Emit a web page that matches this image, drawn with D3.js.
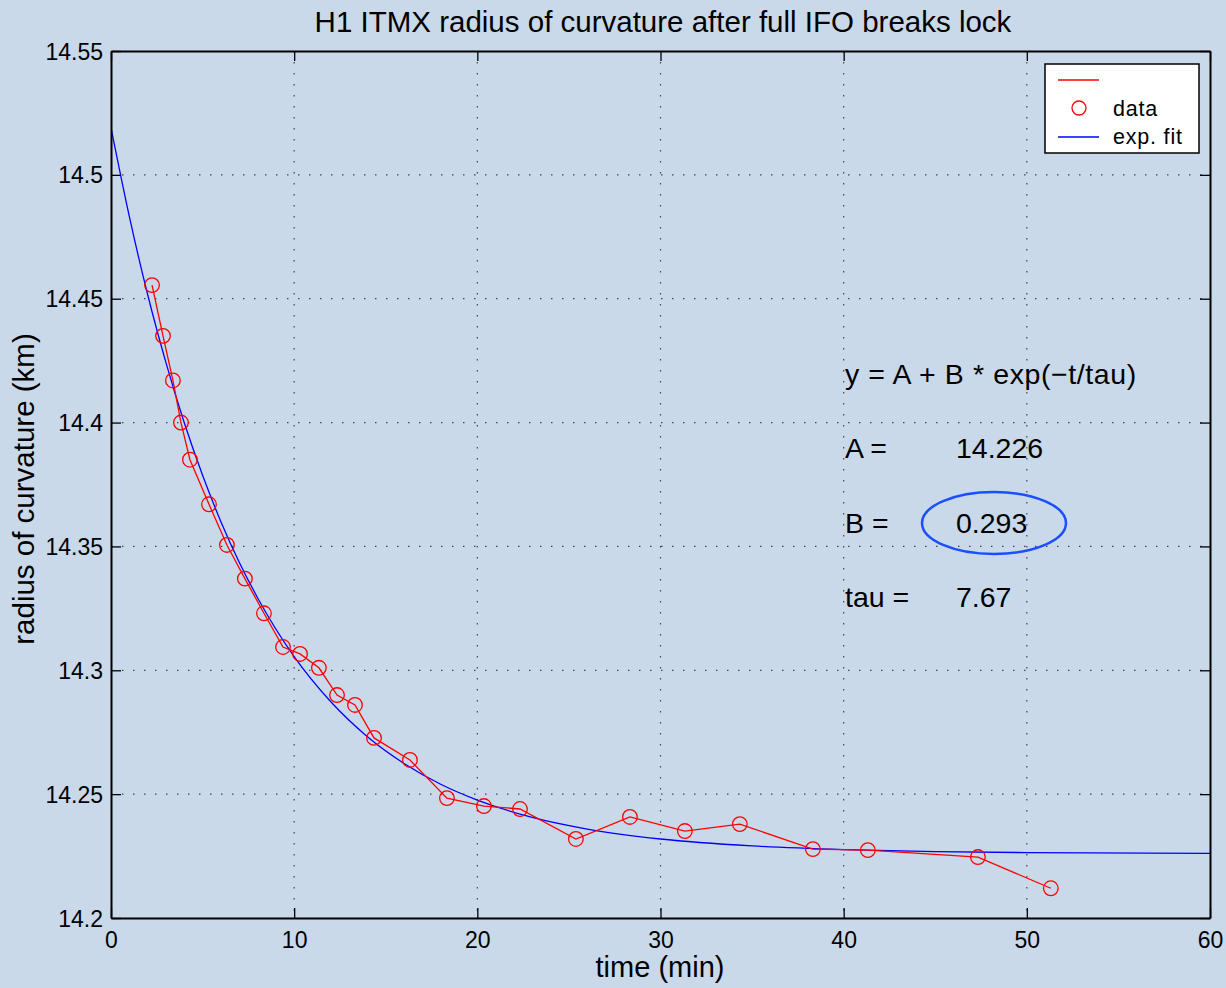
<!DOCTYPE html>
<html><head><meta charset="utf-8">
<script src="https://cdn.jsdelivr.net/npm/d3@7"></script>
<style>
html,body{margin:0;padding:0;background:#c9d9e9;}
svg{display:block;font-family:"Liberation Sans",Arial,Helvetica,sans-serif;}
</style></head><body>
<svg id="chart" width="1226" height="988"></svg>
<script>
// data
const timeMin = [2.24,2.84,3.38,3.82,4.31,5.35,6.33,7.31,8.35,9.39,10.32,11.35,12.34,13.32,14.36,16.32,18.34,20.36,22.33,25.38,28.33,31.33,34.33,38.32,41.32,47.33,51.31];
const radiusKm = [14.4555,14.435,14.417,14.400,14.385,14.367,14.3506,14.337,14.323,14.3094,14.3066,14.301,14.290,14.286,14.2727,14.2638,14.2484,14.2452,14.244,14.2319,14.2408,14.2351,14.2379,14.2278,14.2274,14.2246,14.212];
const fitTime = [0,1,2,3,4,5,6,7,8,10,12,14,16,18,20,23,26,30,35,40,45,50,60];
const fitRadius = [14.519,14.4832,14.4517,14.4242,14.3999,14.3787,14.3600,14.3436,14.3293,14.3055,14.2873,14.2732,14.2624,14.2540,14.2476,14.2406,14.2359,14.2319,14.2291,14.2276,14.2268,14.2264,14.2261];
const xTicks = [0,10,20,30,40,50,60];
const yTicks = [14.2,14.25,14.3,14.35,14.4,14.45,14.5,14.55];
const yTickLabels = ["14.2","14.25","14.3","14.35","14.4","14.45","14.5","14.55"];
const fitParams = [["A =","14.226"],["B =","0.293"],["tau =","7.67"]];
const legendLabels = ["","data","exp. fit"];

const svg = d3.select("#chart");
const L=111,R=1210,T=51,B=918;
const x = d3.scaleLinear().domain([0,60]).range([L,R]);
const y = d3.scaleLinear().domain([14.2,14.55]).range([B,T]);

// grid
const g = svg.append("g");
g.selectAll(".gx").data(xTicks.slice(1,-1)).enter().append("line")
 .attr("x1",d=>x(d)).attr("x2",d=>x(d)).attr("y1",T).attr("y2",B)
 .attr("stroke","#444").attr("stroke-width",1.2).attr("stroke-dasharray","1.5,9.5");
g.selectAll(".gy").data(yTicks.slice(1,-1)).enter().append("line")
 .attr("y1",d=>y(d)).attr("y2",d=>y(d)).attr("x1",L).attr("x2",R)
 .attr("stroke","#444").attr("stroke-width",1.2).attr("stroke-dasharray","1.5,9.5");

// clip
svg.append("clipPath").attr("id","clip").append("rect").attr("x",L).attr("y",T).attr("width",R-L).attr("height",B-T);

// fit line
svg.append("path").datum(fitTime.map((t,i)=>[t,fitRadius[i]]))
 .attr("clip-path","url(#clip)")
 .attr("d",d3.line().x(d=>x(d[0])).y(d=>y(d[1])).curve(d3.curveMonotoneX))
 .attr("fill","none").attr("stroke","#0000ff").attr("stroke-width",1.3);

// data line
const pts = timeMin.map((t,i)=>[t,radiusKm[i]]);
svg.append("path").datum(pts)
 .attr("d",d3.line().x(d=>x(d[0])).y(d=>y(d[1])))
 .attr("fill","none").attr("stroke","#ff0000").attr("stroke-width",1.3);
svg.selectAll(".pt").data(pts).enter().append("circle")
 .attr("cx",d=>x(d[0])).attr("cy",d=>y(d[1])).attr("r",7.3)
 .attr("fill","none").attr("stroke","#ff0000").attr("stroke-width",1.3);

// axes
const fs = 23;
const xb = svg.append("g").attr("transform",`translate(0,${B})`)
 .call(d3.axisBottom(x).tickValues(xTicks).tickSizeInner(-10).tickSizeOuter(0).tickPadding(14));
const xt = svg.append("g").attr("transform",`translate(0,${T})`)
 .call(d3.axisTop(x).tickValues(xTicks).tickSizeInner(-10).tickSizeOuter(0).tickFormat(""));
const yl = svg.append("g").attr("transform",`translate(${L},0)`)
 .call(d3.axisLeft(y).tickValues(yTicks).tickSizeInner(-10).tickSizeOuter(0).tickPadding(8).tickFormat((d,i)=>yTickLabels[i]));
const yr = svg.append("g").attr("transform",`translate(${R},0)`)
 .call(d3.axisRight(y).tickValues(yTicks).tickSizeInner(-10).tickSizeOuter(0).tickFormat(""));
[xb,xt,yl,yr].forEach(a=>{
  a.select(".domain").attr("stroke","#000").attr("stroke-width",2);
  a.selectAll(".tick line").attr("stroke","#000").attr("stroke-width",1.3);
  a.selectAll("text").attr("fill","#000").style("font-size",fs+"px").style("font-family","'Liberation Sans',Arial,sans-serif");
});
xb.selectAll("text").attr("dy","0.71em");
yl.selectAll("text").attr("dy","0.35em");

// titles
svg.append("text").attr("x",663).attr("y",32).attr("text-anchor","middle")
 .style("font-size","29.5px").text("H1 ITMX radius of curvature after full IFO breaks lock");
svg.append("text").attr("x",660).attr("y",977).attr("text-anchor","middle")
 .style("font-size","29px").text("time (min)");
svg.append("text").attr("transform","translate(34,489) rotate(-90)").attr("text-anchor","middle")
 .style("font-size","29.5px").text("radius of curvature (km)");

// annotations
const af = "28.5px";
svg.append("text").attr("x",845).attr("y",384).style("font-size",af).style("letter-spacing","0.6px").text("y = A + B * exp(\u2212t/tau)");
const pyRows=[458,533,607];
fitParams.forEach((p,i)=>{
  svg.append("text").attr("x",845).attr("y",pyRows[i]).style("font-size",af).text(p[0]);
  svg.append("text").attr("x",956).attr("y",pyRows[i]).style("font-size",af).text(p[1]);
});
svg.append("ellipse").attr("cx",994).attr("cy",523).attr("rx",72).attr("ry",31)
 .attr("fill","none").attr("stroke","#1a4fff").attr("stroke-width",2.5);

// legend
const lg = svg.append("g");
lg.append("rect").attr("x",1045).attr("y",64).attr("width",154).attr("height",89)
 .attr("fill","#fff").attr("stroke","#000").attr("stroke-width",1.5);
lg.append("line").attr("x1",1058).attr("x2",1099).attr("y1",80).attr("y2",80).attr("stroke","#ff0000").attr("stroke-width",1.3);
lg.append("circle").attr("cx",1079).attr("cy",108).attr("r",7).attr("fill","none").attr("stroke","#ff0000").attr("stroke-width",1.3);
lg.append("line").attr("x1",1058).attr("x2",1099).attr("y1",137).attr("y2",137).attr("stroke","#0000ff").attr("stroke-width",1.3);
[[88,0],[116,1],[144,2]].forEach(([yy,i])=>{
  lg.append("text").attr("x",1113).attr("y",yy).style("font-size","21.5px").style("letter-spacing","0.8px").text(legendLabels[i]);
});
</script>
</body></html>
